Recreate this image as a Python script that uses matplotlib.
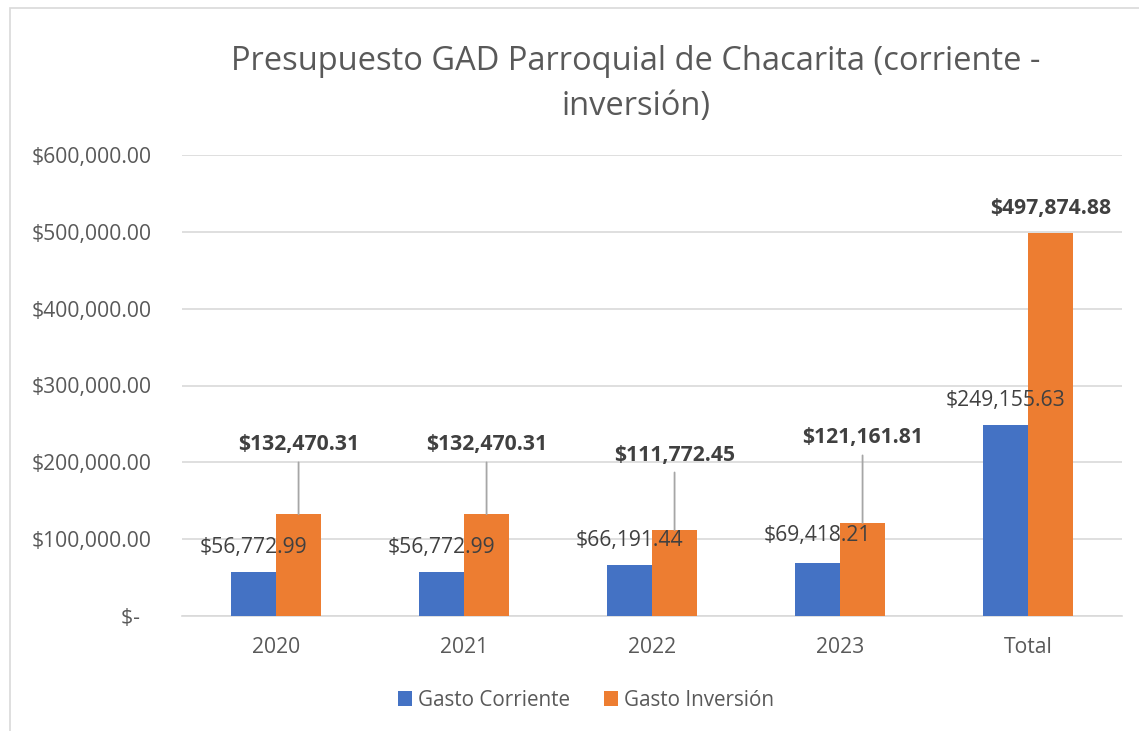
import numpy as np
import matplotlib.pyplot as plt
from matplotlib.patches import Rectangle

# Data
categories = ['2020', '2021', '2022', '2023', 'Total']
gasto_corriente = [56772.99, 56772.99, 66191.44, 69418.21, 249155.63]
gasto_inversion = [132470.31, 132470.31, 111772.45, 121161.81, 497874.88]
yticks = [0, 100000, 200000, 300000, 400000, 500000, 600000]

def money(v):
    return '${:,.2f}'.format(v)

plt.rcParams['font.family'] = ['Open Sans', 'DejaVu Sans']
gray = '#595959'
dark = '#404040'
blue = '#4472C4'
orange = '#ED7D31'
fs = 15.2

fig = plt.figure(figsize=(11.39, 7.31), dpi=100)
ax = fig.add_axes([182/1139, 115/731, 940/1139, 461/731])

# chart border
fig.patches.append(Rectangle((10/1139, -0.05), 1.2, 1 - 8/731 + 0.05,
                             transform=fig.transFigure, fill=False,
                             edgecolor='#d9d9d9', linewidth=1.2))

x = np.arange(len(categories))
w = 0.24
ax.bar(x - w/2, gasto_corriente, w, color=blue, label='Gasto Corriente', zorder=3)
ax.bar(x + w/2, gasto_inversion, w, color=orange, label='Gasto Inversión', zorder=3)

ax.set_xlim(-0.5, len(categories) - 0.5)
ax.set_ylim(0, 600000)
ax.set_yticks(yticks)
ax.set_yticklabels([money(v) if v else '$-  ' for v in yticks])
ax.set_xticks(x)
ax.set_xticklabels(categories)
ax.tick_params(length=0, labelsize=fs, labelcolor=gray)
ax.tick_params(axis='x', pad=15)
ax.tick_params(axis='y', pad=22)
ax.grid(axis='y', color='#d9d9d9', linewidth=1.2, zorder=0)
for s in ['top', 'right', 'left']:
    ax.spines[s].set_visible(False)
ax.spines['bottom'].set_color('#d9d9d9')
ax.spines['bottom'].set_linewidth(1.2)

# label heights in data units
blue_y = [89800, 89800, 98900, 105400, 281000]
orange_y = [222600, 222600, 209500, 231700, 531000]

for i in range(len(categories)):
    ax.text(x[i] - w/2, blue_y[i], money(gasto_corriente[i]), ha='center', va='center',
            fontsize=fs, color=dark, zorder=5)
    xb = x[i] + w/2
    if i < 4:
        ax.annotate(money(gasto_inversion[i]), xy=(xb, gasto_inversion[i]),
                    xytext=(xb, orange_y[i]), ha='center', va='center',
                    fontsize=fs, fontweight='bold', color=dark,
                    arrowprops=dict(arrowstyle='-', color='#a6a6a6', lw=1.3,
                                    shrinkA=3, shrinkB=0), zorder=5)
    else:
        ax.text(xb, orange_y[i], money(gasto_inversion[i]), ha='center', va='center',
                fontsize=fs, fontweight='bold', color=dark, zorder=5)

fig.text(636/1139, 1 - 84/731, 'Presupuesto GAD Parroquial de Chacarita (corriente -\ninversión)',
         ha='center', va='center', fontsize=23.5, color=gray, linespacing=1.45)

leg = fig.legend(loc='center', bbox_to_anchor=(586/1139, 1 - 700/731), ncol=2,
                 frameon=False, fontsize=fs - 0.3, handlelength=0.7, handleheight=0.7,
                 columnspacing=1.6, handletextpad=0.3)
for t in leg.get_texts():
    t.set_color(gray)

fig.savefig('out.png', dpi=100)
